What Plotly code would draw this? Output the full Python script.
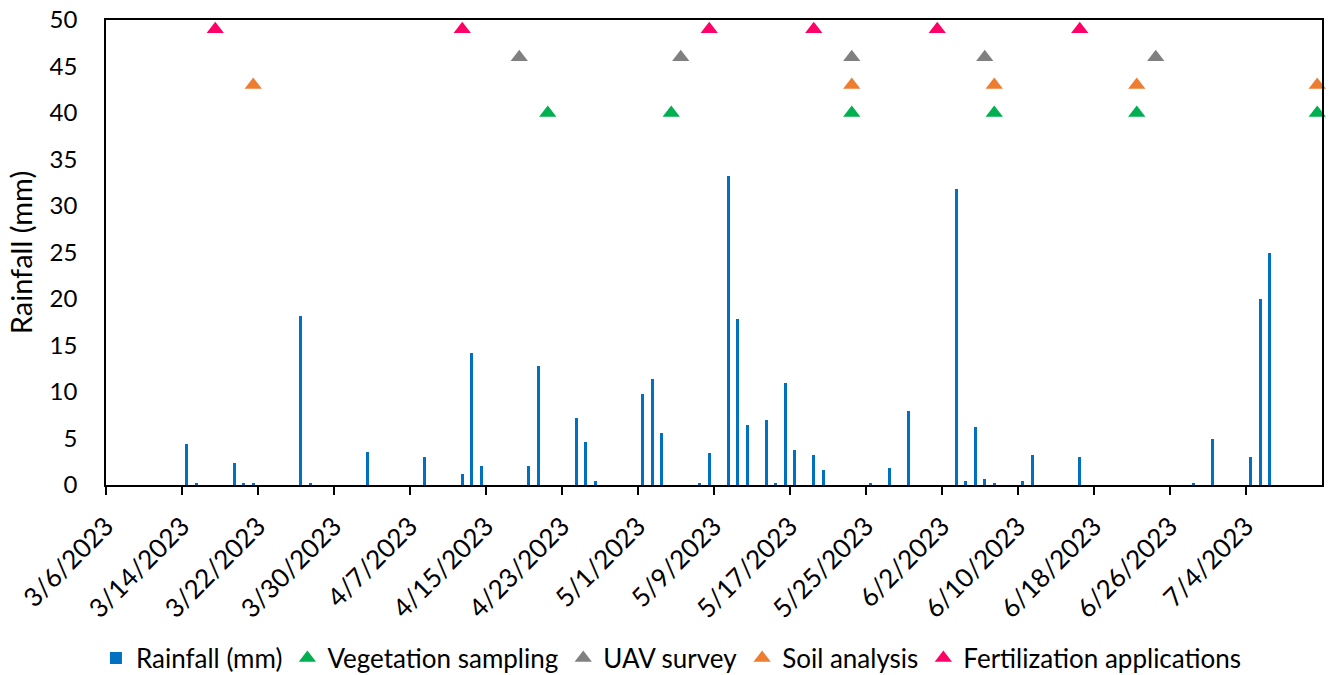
import pandas as pd
import plotly.graph_objects as go

DAY_MS = 86400000

# Daily rainfall (mm)
rain_dates = [
    "2023-03-14", "2023-03-15", "2023-03-19", "2023-03-20", "2023-03-21",
    "2023-03-26", "2023-03-27", "2023-04-02", "2023-04-08", "2023-04-12",
    "2023-04-13", "2023-04-14", "2023-04-19", "2023-04-20", "2023-04-24",
    "2023-04-25", "2023-04-26", "2023-05-01", "2023-05-02", "2023-05-03",
    "2023-05-07", "2023-05-08", "2023-05-10", "2023-05-11", "2023-05-12",
    "2023-05-14", "2023-05-15", "2023-05-16", "2023-05-17", "2023-05-19",
    "2023-05-20", "2023-05-25", "2023-05-27", "2023-05-29", "2023-06-03",
    "2023-06-04", "2023-06-05", "2023-06-06", "2023-06-07", "2023-06-10",
    "2023-06-11", "2023-06-16", "2023-06-28", "2023-06-30", "2023-07-04",
    "2023-07-05", "2023-07-06",
]
rain_mm = [
    4.4, 0.2, 2.4, 0.2, 0.2,
    18.2, 0.2, 3.6, 3.0, 1.2,
    14.2, 2.0, 2.0, 12.8, 7.2,
    4.6, 0.4, 9.8, 11.4, 5.6,
    0.2, 3.4, 33.2, 17.8, 6.4,
    7.0, 0.2, 11.0, 3.8, 3.2,
    1.6, 0.2, 1.8, 8.0, 31.8,
    0.4, 6.2, 0.6, 0.2, 0.4,
    3.2, 3.0, 0.2, 5.0, 3.0,
    20.0, 25.0,
]

# Field activities, each drawn on its own row
vegetation_dates = ["2023-04-21", "2023-05-04", "2023-05-23", "2023-06-07", "2023-06-22", "2023-07-11"]
vegetation_level = 40
uav_dates = ["2023-04-18", "2023-05-05", "2023-05-23", "2023-06-06", "2023-06-24"]
uav_level = 46
soil_dates = ["2023-03-21", "2023-05-23", "2023-06-07", "2023-06-22", "2023-07-11"]
soil_level = 43
fert_dates = ["2023-03-17", "2023-04-12", "2023-05-08", "2023-05-19", "2023-06-01", "2023-06-16"]
fert_level = 49

# Axis extent and date ticks every 8 days
x_start, x_end = "2023-03-06", "2023-07-12"
tick_dates = pd.date_range("2023-03-06", "2023-07-04", freq="8D")
tick_labels = [f"{d.month}/{d.day}/{d.year}" for d in tick_dates]

FONT = "Lato, 'Open Sans', sans-serif"

fig = go.Figure()
fig.add_trace(go.Bar(
    x=rain_dates, y=rain_mm, name="Rainfall (mm)",
    marker=dict(color="#0070C0", line_width=0),
    width=0.32 * DAY_MS,
    xperiod=DAY_MS, xperiodalignment="middle",
))

events = [
    ("Vegetation sampling", vegetation_dates, vegetation_level, "#00B050"),
    ("UAV survey", uav_dates, uav_level, "#808080"),
    ("Soil analysis", soil_dates, soil_level, "#ED7D31"),
    ("Fertilization applications", fert_dates, fert_level, "#FF0066"),
]
for name, dates, level, color in events:
    fig.add_trace(go.Scatter(
        x=dates, y=[level] * len(dates), name=name, mode="markers",
        marker=dict(symbol="triangle-up", size=15, color=color, line_width=0),
        xperiod=DAY_MS, xperiodalignment="middle", cliponaxis=False,
    ))

fig.update_layout(
    width=1329, height=675,
    margin=dict(l=106, r=7, t=20, b=190, autoexpand=False),
    plot_bgcolor="white", paper_bgcolor="white",
    font=dict(family=FONT, size=24, color="#000000"),
    showlegend=True,
    legend=dict(
        orientation="h", x=0.465, xanchor="center",
        y=-0.372, yanchor="middle", font=dict(size=26),
        traceorder="normal",
    ),
    bargap=0,
)
fig.update_xaxes(
    type="date", range=[x_start, x_end],
    tickvals=tick_dates, ticktext=tick_labels,
    tickangle=-45, ticks="outside", ticklen=8, tickwidth=1.5, tickcolor="black",
    ticklabelstandoff=6,
    showline=True, linecolor="black", linewidth=1.5, mirror=True,
    showgrid=False, zeroline=False, automargin=False,
    tickfont=dict(size=26),
)
fig.update_yaxes(
    range=[0, 50], dtick=5, tick0=0,
    showline=True, linecolor="black", linewidth=1.5, mirror=True,
    showgrid=False, zeroline=False, ticks="", automargin=False,
    ticklabelstandoff=22,
    tickfont=dict(size=24),
    title=dict(text="Rainfall (mm)", font=dict(size=29), standoff=8),
)

fig.write_html("out.html")
